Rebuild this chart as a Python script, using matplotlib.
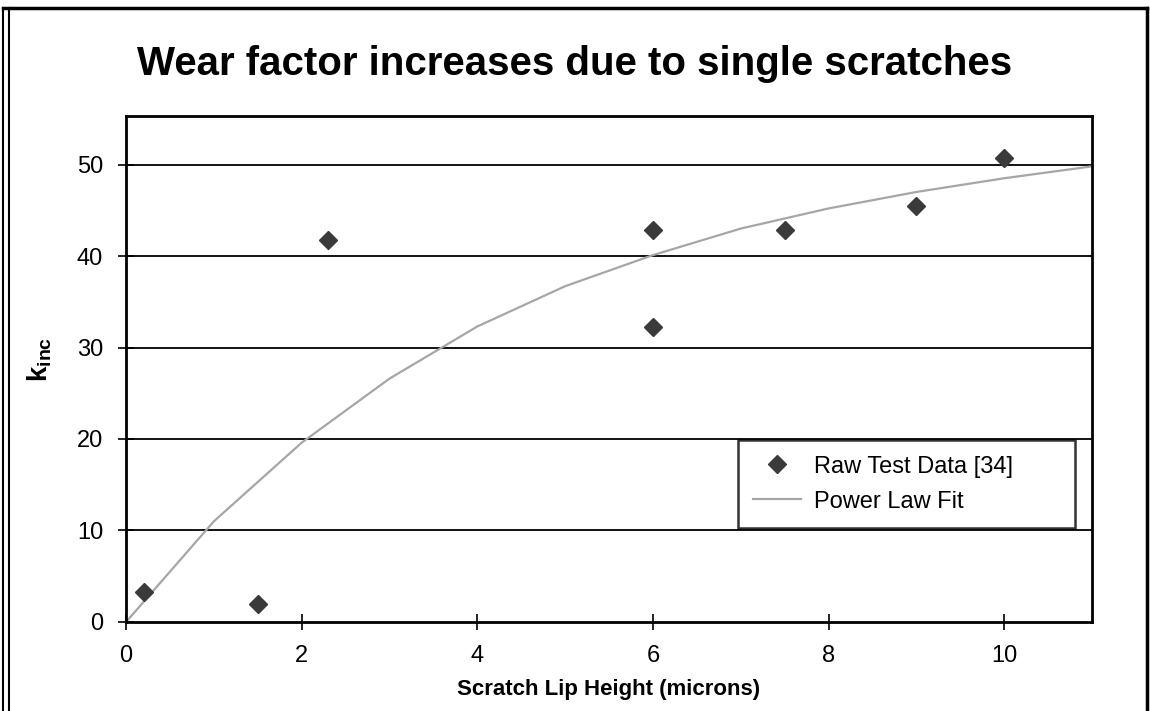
import matplotlib
matplotlib.use("Agg")
import matplotlib.pyplot as plt
from matplotlib.lines import Line2D

plt.rcParams['font.family'] = ['Liberation Sans', 'DejaVu Sans']
plt.rcParams['mathtext.fontset'] = 'custom'
plt.rcParams['mathtext.rm'] = 'Liberation Sans'
plt.rcParams['mathtext.bf'] = 'Liberation Sans:bold'

# Raw test data
lip_height = [0.2, 1.5, 2.3, 6.0, 6.0, 7.5, 9.0, 10.0]
k_inc = [3.3, 2.0, 41.8, 42.8, 32.2, 42.8, 45.5, 50.7]

# Fitted curve, sampled from the chart
fit_x = [0, 1, 2, 3, 4, 5, 6, 7, 8, 9, 10, 11]
fit_y = [0, 11.0, 19.6, 26.6, 32.3, 36.7, 40.1, 43.0, 45.2, 47.0, 48.5, 49.8]

x_ticks = [0, 2, 4, 6, 8, 10]
y_ticks = [0, 10, 20, 30, 40, 50]

fig = plt.figure(figsize=(11.5, 7.11), dpi=100)
ax = fig.add_axes([0.1096, 0.1252, 0.8400, 0.7116])

# horizontal gridlines
for yv in y_ticks[1:]:
    ax.axhline(yv, color='black', linewidth=1.3, zorder=1)

ax.plot(fit_x, fit_y, color='#a6a6a6', linewidth=1.6, zorder=2, label='Power Law Fit')
ax.plot(lip_height, k_inc, linestyle='none', marker='D', markersize=9,
        color='#3a3a3a', zorder=3, label='Raw Test Data [34]')

ax.set_xlim(0, 11)
ax.set_ylim(0, 55.3)
ax.set_xticks(x_ticks)
ax.set_yticks(y_ticks)
ax.tick_params(direction='inout', length=11, width=1.2, labelsize=17)
ax.tick_params(axis='x', pad=11)
ax.tick_params(axis='y', pad=11)
for s in ax.spines.values():
    s.set_linewidth(2)

ax.set_xlabel("Scratch Lip Height (microns)", fontsize=16, fontweight='bold')
ax.xaxis.set_label_coords(0.5, -0.112)
ax.set_ylabel(r"$\mathbf{k}_{\mathbf{inc}}$", fontsize=20)
ax.yaxis.set_label_coords(-0.075, 0.52)

handles, labels = ax.get_legend_handles_labels()
leg = ax.legend(handles[::-1], labels[::-1], loc='lower left', mode='expand',
                bbox_to_anchor=(0.6335, 0.1858, 0.3489, 0.174), borderaxespad=0,
                fontsize=17, frameon=True, fancybox=False, edgecolor='black',
                borderpad=0.65, handlelength=2.0, handletextpad=0.55,
                labelspacing=0.55)
leg.get_frame().set_linewidth(1.8)

fig.text(0.5, 0.910, "Wear factor increases due to single scratches",
         ha='center', va='center', fontsize=29, fontweight='bold')

# outer slide border
W, H = 1150, 711
for xs, ys, lw in [([3, 3], [0, 703], 1.5), ([9, 9], [0, 703], 1.5),
                   ([3, 1147], [703, 703], 2.5), ([1147, 1147], [0, 703], 2.5)]:
    fig.add_artist(Line2D([x / W for x in xs], [y / H for y in ys],
                          color='black', linewidth=lw))

fig.savefig("out.png", dpi=100)
